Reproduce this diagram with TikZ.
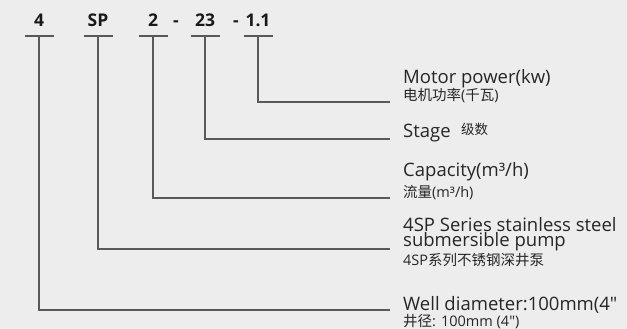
\documentclass[tikz,border=0pt]{standalone}
\usepackage{fontspec}
\setmainfont{Open Sans}[Ligatures=TeXOff]
\newfontfamily\cjk{Noto Sans CJK SC}
\begin{document}
\begin{tikzpicture}[x=1pt,y=-1pt,
  lbl/.style={font=\fontsize{17.5}{17.5}\selectfont\bfseries, anchor=base, inner sep=0pt, text=black!90},
  big/.style={font=\fontsize{18.5}{18.5}\selectfont, anchor=base west, inner sep=0pt, text=black!85},
  small/.style={font=\fontsize{14.5}{14.5}\selectfont, anchor=base west, inner sep=0pt, text=black!85},
  ln/.style={draw=black!65, line width=1.2pt}]
\useasboundingbox (0,0) rectangle (627,329);
\clip (0,0) rectangle (627,329);
\fill[black!7] (0,0) rectangle (627,329);
% top code
\node[lbl] (t4) at (39,27) {4};
\node[lbl] (tSP) at (98,27) {SP};
\node[lbl] (t2) at (153,27) {2};
\node[lbl] (d1) at (176,27) {-};
\node[lbl] (t23) at (205,27) {23};
\node[lbl] (d2) at (236,27) {-};
\node[lbl] (t11) at (258,27) {1.1};
% bar centres
\coordinate (c4) at (39,36);
\coordinate (cSP) at (98,36);
\coordinate (c2) at (153,36);
\coordinate (c23) at (205,36);
\coordinate (c11) at (258,36);
\foreach \c in {c4,cSP,c2,c23,c11}{
  \draw[ln] ([xshift=-14.5pt]\c) -- ([xshift=14.5pt]\c);
}
% line ends
\coordinate (e11) at (390,102);
\coordinate (e23) at (390,139);
\coordinate (e2) at (390,198);
\coordinate (eSP) at (390,249);
\coordinate (e4) at (390,310);
\draw[ln] (c11) |- (e11);
\draw[ln] (c23) |- (e23);
\draw[ln] (c2) |- (e2);
\draw[ln] (cSP) |- (eSP);
\draw[ln] (c4) |- (e4);
% descriptions
\node[big] (m1) at (403,84) {Motor power(kw)};
\node[small] (m2) at (403,101) {{\cjk 电机功率}({\cjk 千瓦})};
\node[big] (s1) at (403,137) {Stage};
\node[small, font=\fontsize{13.5}{13.5}\selectfont] (s2) at (461,135) {\cjk 级数};
\node[big] (p1) at (403,176) {Capacity(m³/h)};
\node[small] (p2) at (403,197) {{\cjk 流量}(m³/h)};
\node[big, font=\fontsize{18.5}{15}\selectfont, align=left] (r1) at (403,246) {4SP Series stainless steel\\submersible pump};
\node[small] (r3) at (403,265) {4SP{\cjk 系列不锈钢深井泵}};
\node[big] (w1) at (403,310) {Well diameter:100mm(4"};
\node[small] (w2) at (403,326) {{\cjk 井径}: 100mm (4")};
\end{tikzpicture}
\end{document}
